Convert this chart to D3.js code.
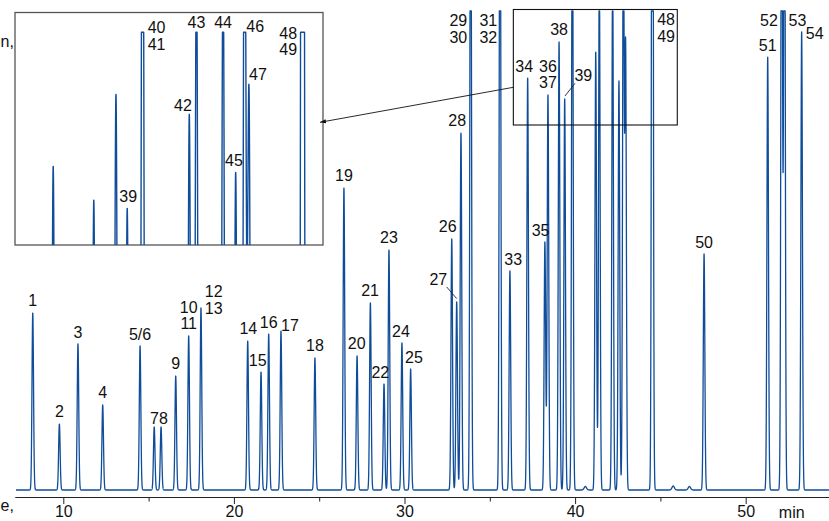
<!DOCTYPE html>
<html>
<head>
<meta charset="utf-8">
<script src="https://cdn.jsdelivr.net/npm/d3@7"></script>
<style>
  body { margin: 0; background: #fff; }
  svg { display: block; }
  text { font-family: "Liberation Sans", Arial, Helvetica, sans-serif; }
</style>
</head>
<body>
<svg id="chart" width="829" height="521"></svg>
<script>
// ---- Chromatogram data -------------------------------------------------
// Numbered peaks: retention time (min) and detector response (arbitrary units)
const peakNames = ["1","2","3","4","5/6","7","8","9","10/11","12/13","14","15","16","17","18",
  "19","20","21","22","23","24","25","26","27","28","29/30","31/32","33","34","35","36/37",
  "38","39","40/41","42","43","44","45","46","47","48/49","50","51","52","53","54"];
const peakTimes = [8.21, 9.77, 10.86, 12.31, 14.50, 15.33, 15.73, 16.59, 17.35, 18.07,
  20.81, 21.59, 22.04, 22.76, 24.75, 26.45, 27.22, 28.00, 28.80, 29.09,
  29.85, 30.36, 32.77, 33.06, 33.31, 33.88, 35.60, 36.18, 37.22, 38.23,
  38.41, 39.06, 39.39, 39.84, 41.21, 41.42, 42.20, 42.57, 42.83, 42.96,
  44.53, 47.56, 51.29, 52.11, 52.27, 53.28];
const peakHeights = [177, 66, 146, 85, 144, 63, 63, 114, 154, 182,
  149, 118, 156, 159, 132, 302, 134, 187, 106, 240,
  147, 121, 251, 188, 357, 720, 720, 219, 412, 248,
  395, 448, 391, 635, 438, 520, 520, 409, 590, 443,
  1115, 236, 433, 770, 770, 458];
// Small unlabelled baseline bumps
const bumpTimes = [40.6, 45.75, 46.7];
const bumpHeights = [3.5, 4, 3.5];

// Axis ticks (min)
const tickMajor = [10, 20, 30, 40, 50];
const tickMinor = [15, 25, 35, 45];

// Region enlarged in the inset: time range (min) and response range
const zoomTimes = [36.38, 45.99];
const zoomResponse = [365, 480.5];

// ---- Label layout (offsets in px from the peak apex) -------------------
const mainLabels = [
  ["1","1",0,-6.7], ["2","2",0,-7], ["3","3",0,-6.3], ["4","4",0,-6.7], ["5/6","5/6",0,-5.6],
  ["7","7",0.3,-2.7], ["8","8",2.4,-3.3], ["9","9",0,-6.7],
  ["10","10/11",0,-23.3], ["11","10/11",0,-6.7], ["12","12/13",12.7,-10.6], ["13","12/13",12.7,6],
  ["14","14",0.6,-6.7], ["15","15",-3.3,-6.3], ["16","16",0,-6.4], ["17","17",9,0],
  ["18","18",0,-7.3], ["19","19",0,-6.7], ["20","20",-0.3,-7], ["21","21",-0.3,-6.6],
  ["22","22",-3.7,-6.3], ["23","23",0,-6.7], ["24","24",-1,-6], ["25","25",3.3,-6.3],
  ["26","26",-4,-6.6], ["27","27",-18.4,-16.7], ["28","28",-3.7,-6.7],
  ["29","29/30",-12.4,15], ["30","29/30",-12.4,31.7], ["31","31/32",-11.7,15], ["32","31/32",-11.7,31.7],
  ["33","33",3.3,-6], ["34","34",-3.4,-6], ["35","35",-4.3,-5.7],
  ["36","36/37",0,-22.7], ["37","36/37",0,-7], ["38","38",0,-6.7], ["39","39",18.6,-18],
  ["48","48/49",13.7,14], ["49","48/49",13.7,31],
  ["50","50",0,-5.7], ["51","51",0,-6.3], ["52","52",-12.7,15], ["53","53",13,15], ["54","54",13,6.6]
];
const insetLabels = [
  ["39","39",1,-6.7], ["40","40/41",14,1], ["41","40/41",14,17.7], ["42","42",-6.4,-3.6],
  ["43","43",0,-4.7], ["44","44",0,-4.7], ["45","45",-1.7,-6.3], ["46","46",10.7,0],
  ["47","47",9,-6.6], ["48","48/49",-14.4,7], ["49","48/49",-14.4,23]
];
// Leader lines: peak, start offset, end offset (px from apex)
const mainLeaders = [["27",[-10,-15],[0,-3.4]], ["39",[10.3,-15.7],[0.3,-3]]];

// ---- Drawing ------------------------------------------------------------
const traceColor = "#0f4c99";
const svg = d3.select("#chart");
const cap = 479;          // detector trace is clipped at the top of the frame
const sigma = 0.045;      // peak standard deviation (min)
const bumpSigma = 0.07;

const x = d3.scaleLinear().domain([10, 50]).range([63.3, 745.7]);
const y = d3.scaleLinear().domain([0, 480]).range([490, 10]);

function response(t) {
  let s = 0;
  for (let i = 0; i < peakTimes.length; i++) {
    const d = (t - peakTimes[i]) / sigma;
    if (Math.abs(d) < 9) s += peakHeights[i] * Math.exp(-0.5 * d * d);
  }
  for (let i = 0; i < bumpTimes.length; i++) {
    const d = (t - bumpTimes[i]) / bumpSigma;
    if (Math.abs(d) < 9) s += bumpHeights[i] * Math.exp(-0.5 * d * d);
  }
  return Math.min(s, cap);
}
const apex = name => {
  const i = peakNames.indexOf(name);
  return [peakTimes[i], Math.min(response(peakTimes[i]), cap)];
};

// Main trace
const tStart = x.invert(16), tEnd = x.invert(829);
const mainPts = d3.range(tStart, tEnd, 0.003).map(t => [t, response(t)]);
svg.append("path")
  .datum(mainPts)
  .attr("fill", "none")
  .attr("stroke", traceColor)
  .attr("stroke-width", 1.3)
  .attr("stroke-linejoin", "round")
  .attr("d", d3.line().x(d => x(d[0])).y(d => y(d[1])));

// X axis
const ax = x.copy().domain([x.invert(15), x.invert(829)]).range([15, 829]);
const gAxis = svg.append("g").attr("transform", "translate(0,497)");
gAxis.call(d3.axisBottom(ax).tickValues(tickMajor).tickSize(7).tickPadding(2.1)
  .tickSizeOuter(0).tickFormat(d3.format("d")));
gAxis.append("g").call(d3.axisBottom(ax).tickValues(tickMinor).tickSize(4.5)
  .tickSizeOuter(0).tickFormat(""));
gAxis.selectAll("path.domain, line").attr("stroke", "#222").attr("stroke-width", 1);
gAxis.selectAll("text").attr("font-size", 16).attr("fill", "#111")
  .attr("font-family", '"Liberation Sans", Arial, sans-serif');
svg.append("text").attr("x", 791.7).attr("y", 517.5).attr("text-anchor", "middle")
  .attr("font-size", 16).attr("fill", "#111").text("min");

// Peak labels on the main trace
const gLab = svg.append("g").attr("font-size", 16).attr("fill", "#111").attr("text-anchor", "middle");
mainLabels.forEach(([txt, p, dx, dy]) => {
  const [t, h] = apex(p);
  gLab.append("text").attr("x", x(t) + dx).attr("y", y(h) + dy).text(txt);
});
mainLeaders.forEach(([p, a, b]) => {
  const [t, h] = apex(p);
  svg.append("line")
    .attr("x1", x(t) + a[0]).attr("y1", y(h) + a[1])
    .attr("x2", x(t) + b[0]).attr("y2", y(h) + b[1])
    .attr("stroke", "#222").attr("stroke-width", 0.9);
});

// Frame marking the enlarged region
const zx0 = x(zoomTimes[0]), zx1 = x(zoomTimes[1]);
const zy0 = y(zoomResponse[1]), zy1 = y(zoomResponse[0]);
svg.append("rect")
  .attr("x", zx0).attr("y", zy0).attr("width", zx1 - zx0).attr("height", zy1 - zy0)
  .attr("fill", "none").attr("stroke", "#111").attr("stroke-width", 1.1);

// Inset: enlarged top of the crowded 36–45 min region
const inset = { left: 15, top: 12.5, right: 323, bottom: 245 };
const ix = d3.scaleLinear().domain([36.1, 45.13]).range([inset.left, inset.right]);
const iy = d3.scaleLinear().domain([372.65, 488.5]).range([inset.bottom, 13.3]);

svg.append("rect")
  .attr("x", inset.left).attr("y", inset.top)
  .attr("width", inset.right - inset.left).attr("height", inset.bottom - inset.top)
  .attr("fill", "#fff").attr("stroke", "#555").attr("stroke-width", 1.3);

svg.append("clipPath").attr("id", "insetClip").append("rect")
  .attr("x", inset.left).attr("y", inset.top)
  .attr("width", inset.right - inset.left).attr("height", inset.bottom - inset.top);

const insetPts = d3.range(36.1, 45.13, 0.0015).map(t => [t, response(t)]);
svg.append("path")
  .datum(insetPts)
  .attr("clip-path", "url(#insetClip)")
  .attr("fill", "none")
  .attr("stroke", traceColor)
  .attr("stroke-width", 1.4)
  .attr("stroke-linejoin", "round")
  .attr("d", d3.line().x(d => ix(d[0])).y(d => iy(d[1])));

const gInLab = svg.append("g").attr("font-size", 16).attr("fill", "#111").attr("text-anchor", "middle");
insetLabels.forEach(([txt, p, dx, dy]) => {
  const [t, h] = apex(p);
  gInLab.append("text").attr("x", ix(t) + dx).attr("y", iy(h) + dy).text(txt);
});

// Arrow from the marked region to the inset
svg.append("defs").append("marker")
  .attr("id", "arrowHead").attr("viewBox", "0 0 10 10")
  .attr("refX", 10).attr("refY", 5).attr("markerWidth", 6).attr("markerHeight", 6)
  .attr("orient", "auto-start-reverse").attr("markerUnits", "userSpaceOnUse")
  .append("path").attr("d", "M0,1.5L10,5L0,8.5Z").attr("fill", "#111");
svg.append("line")
  .attr("x1", zx0).attr("y1", 87.3)
  .attr("x2", inset.right - 3).attr("y2", 122.3)
  .attr("stroke", "#111").attr("stroke-width", 0.9)
  .attr("marker-end", "url(#arrowHead)");

// Caption fragments at the left margin
svg.append("text").attr("x", 0.5).attr("y", 47).attr("text-anchor", "start")
  .attr("font-size", 16).attr("fill", "#111").text("n,");
svg.append("text").attr("x", 0.5).attr("y", 511).attr("text-anchor", "start")
  .attr("font-size", 16).attr("fill", "#111").text("e,");
</script>
</body>
</html>
